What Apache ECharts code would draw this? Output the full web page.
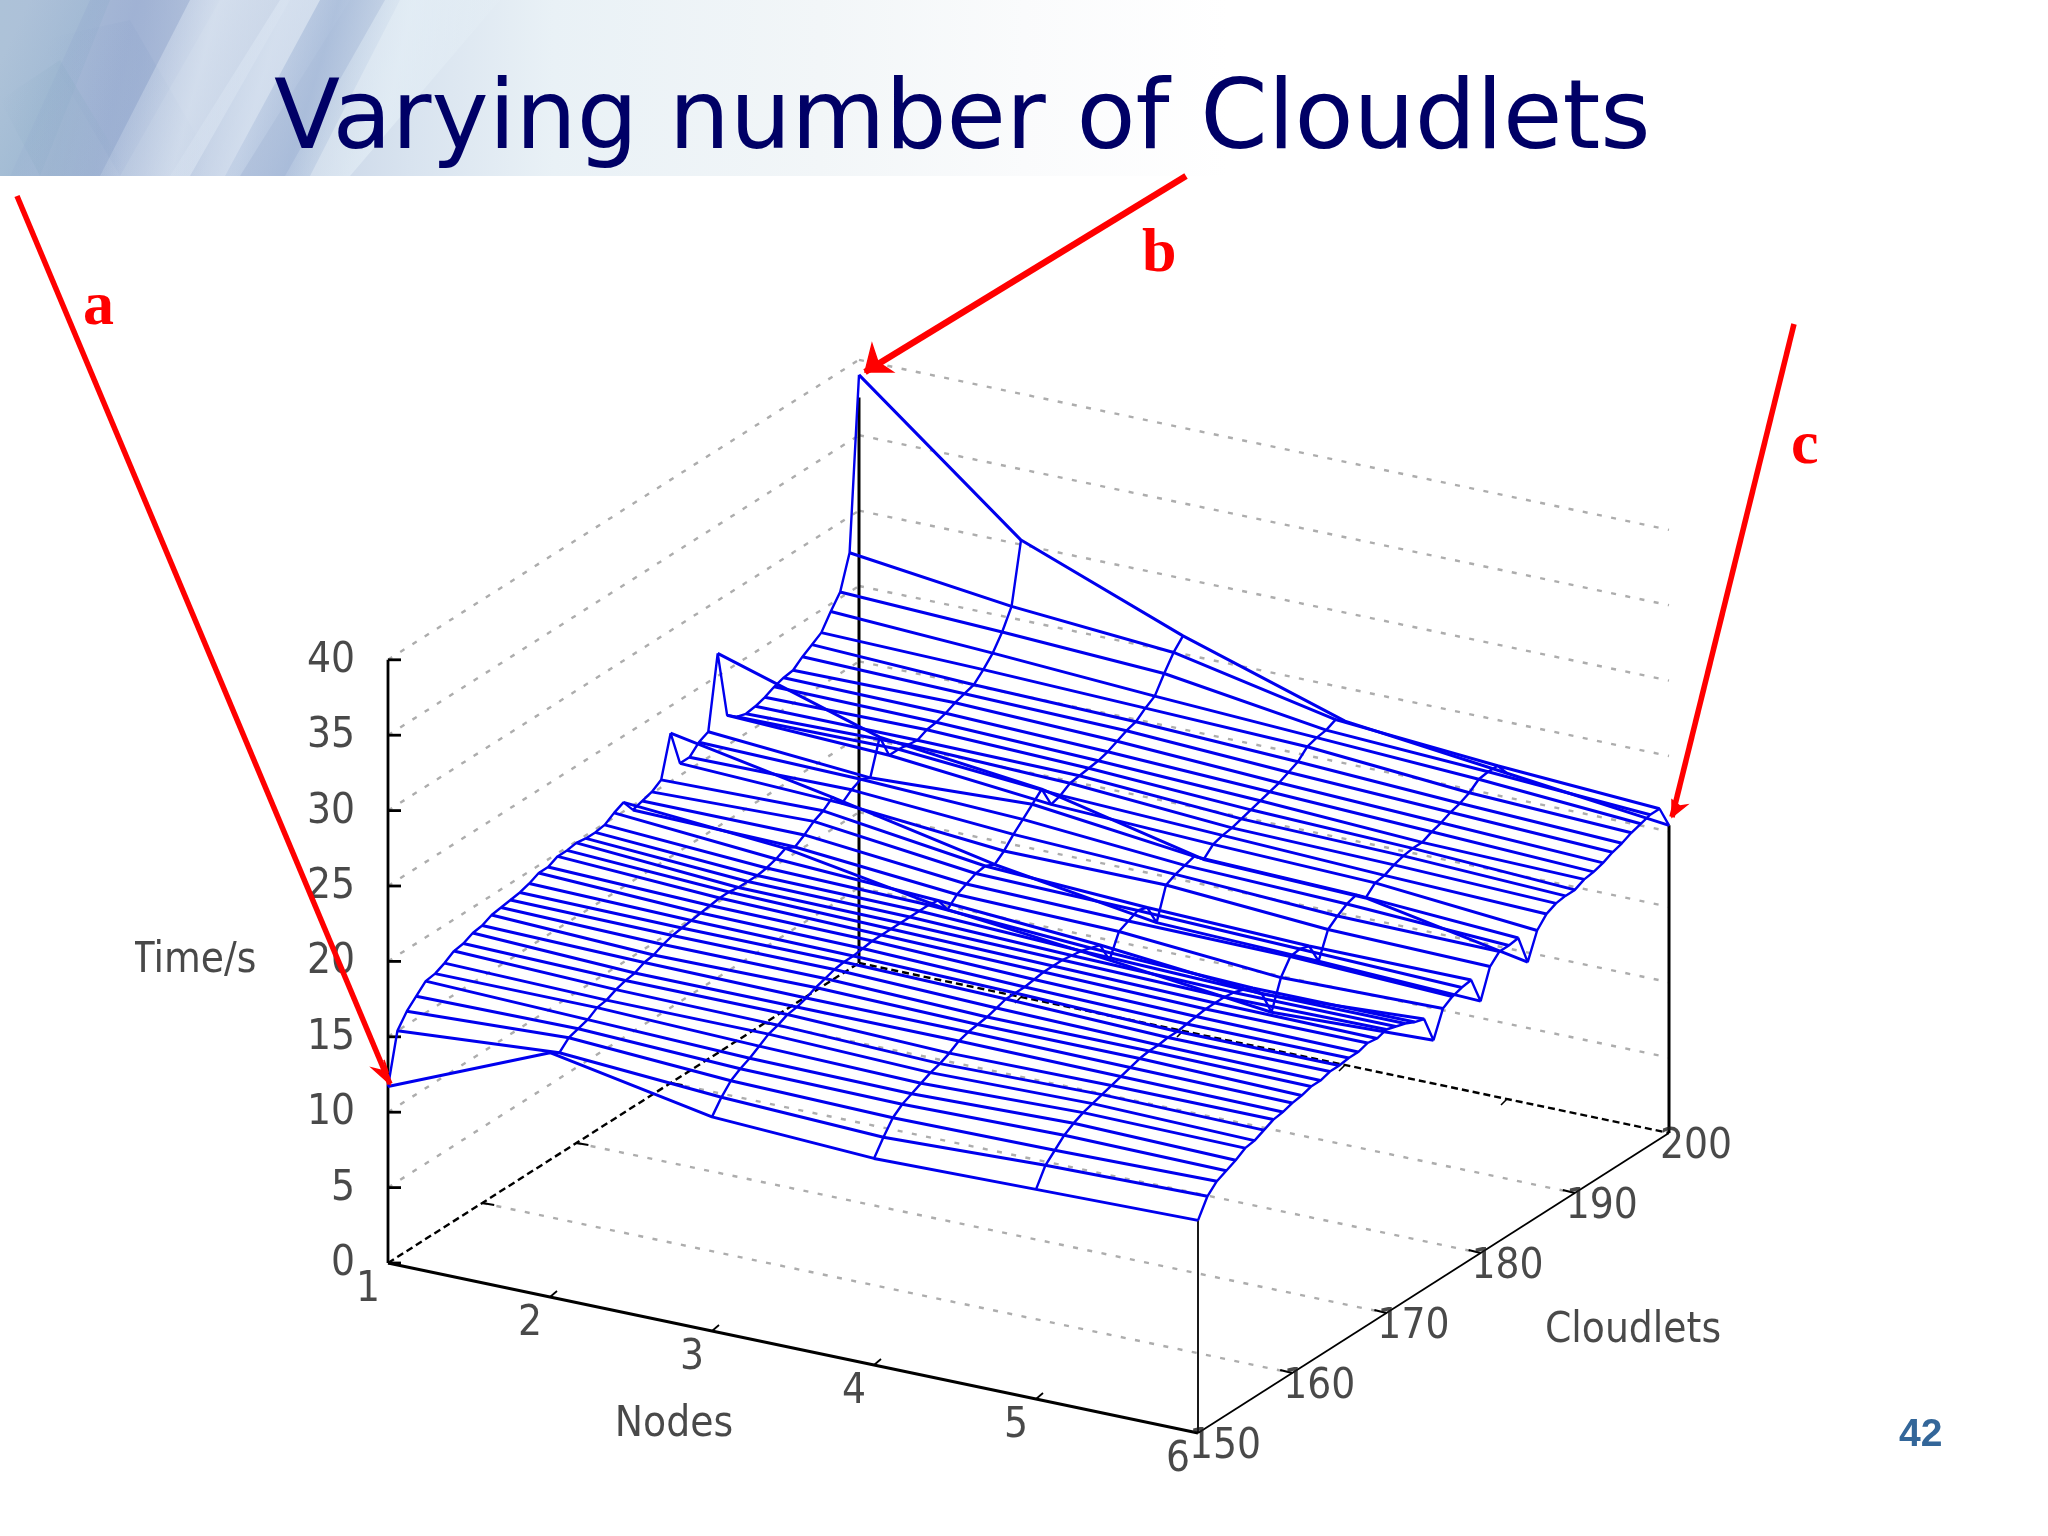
<!DOCTYPE html>
<html><head><meta charset="utf-8">
<style>html,body{margin:0;padding:0;background:#fff}#c{width:2048px;height:1536px}</style>
<script src="https://cdn.jsdelivr.net/npm/echarts@6/dist/echarts.min.js"></script>
</head><body><div id="c"></div>
<script>
const nodes=[1,2,3,4,5,6];
const cloudlets=[150,151,152,153,154,155,156,157,158,159,160,161,162,163,164,165,166,167,168,169,170,171,172,173,174,175,176,177,178,179,180,181,182,183,184,185,186,187,188,189,190,191,192,193,194,195,196,197,198,199,200];
const timeNode1=[11.7,15.0,15.9,16.5,17.1,17.2,17.5,17.9,18.0,18.3,18.4,18.7,18.8,18.9,19.0,19.2,19.5,19.5,19.8,19.8,19.9,19.8,19.8,19.9,20.3,20.6,19.7,19.9,20.1,20.5,23.2,20.8,20.8,21.4,21.7,26.5,22.0,21.5,21.3,21.4,21.6,21.9,22.1,22.2,22.7,23.1,23.5,24.5,25.4,27.6,39.0];
const timeNode2=[16.2,15.8,16.4,16.6,16.8,17.2,17.3,17.6,17.8,17.9,18.2,18.3,18.6,18.8,18.9,19.0,19.1,19.2,19.3,19.3,19.2,19.2,19.2,19.3,19.5,19.8,19.5,19.9,20.4,20.7,21.2,20.4,20.9,21.2,20.9,23.2,21.6,21.6,21.5,21.4,21.7,21.8,22.0,22.3,22.5,22.7,23.3,24.0,25.0,26.3,30.3];
const timeNode3=[14.2,15.1,15.8,16.2,16.5,16.9,17.3,17.5,17.8,17.9,18.1,18.4,18.6,18.8,18.9,18.9,19.0,19.1,19.1,19.1,19.1,19.1,19.1,19.1,19.0,18.0,18.6,18.9,19.2,19.3,19.0,19.5,20.2,20.8,21.4,22.0,20.6,20.8,21.2,21.3,21.4,21.5,21.7,22.0,22.3,22.5,23.0,23.4,24.5,25.5,26.2];
const timeNode4=[13.7,14.7,15.6,16.1,16.4,16.7,17.0,17.2,17.5,17.9,18.1,18.2,18.3,18.5,18.7,18.7,18.7,18.8,18.9,18.9,18.9,18.8,18.7,18.5,18.3,16.9,18.4,18.7,19.0,18.8,17.4,19.5,19.8,20.0,20.2,19.6,20.2,20.4,20.5,20.7,20.9,21.1,21.3,21.5,21.8,22.1,22.7,22.9,23.0,23.3,22.8];
const timeNode5=[13.9,15.1,15.7,16.3,16.7,17.0,17.2,17.4,17.6,17.8,18.0,18.2,18.3,18.3,18.4,18.4,18.5,18.6,18.7,18.7,18.7,18.6,18.4,18.1,17.3,15.7,17.6,18.6,18.7,18.5,17.1,18.8,19.3,19.7,19.9,19.3,19.9,20.0,20.3,20.5,20.6,20.6,20.9,21.1,21.4,21.6,21.9,22.4,22.5,22.5,21.6];
const timeNode6=[14.1,15.3,15.9,16.2,16.5,16.9,17.0,17.3,17.6,17.7,17.9,18.0,18.2,18.2,18.4,18.4,18.5,18.5,18.7,18.6,18.8,18.6,18.4,18.1,17.9,16.1,17.8,18.2,18.4,18.5,16.7,18.6,19.2,19.2,19.3,17.3,19.0,19.7,20.0,20.1,20.1,20.4,20.5,20.7,21.0,21.2,21.5,21.7,21.9,21.9,20.4];
const timeTable=[timeNode1,timeNode2,timeNode3,timeNode4,timeNode5,timeNode6];
const timeTicks=[0,5,10,15,20,25,30,35,40];
const nodeTicks=[1,2,3,4,5,6];
const cloudletTicks=[150,160,170,180,190,200];

/* oblique view of the 3D box onto the plot plane */
const view={ox:388,oy:1263,nx:162,ny:34,cx:9.42,cy:-6,tz:-15.08};
const P=(n,c,t)=>[view.ox+(n-1)*view.nx+(c-150)*view.cx, view.oy+(n-1)*view.ny+(c-150)*view.cy+t*view.tz];

const series=[];
const seg=(pts,color,width,type)=>series.push({type:'line',data:pts,showSymbol:false,symbol:'none',silent:true,animation:false,
  lineStyle:{color,width,type:type||'solid',cap:'butt'},itemStyle:{color},z:2,clip:false});
const GRAY='#adadad',DOT=[5,9.5],BL='#000';

/* dotted grid */
timeTicks.slice(1).forEach(t=>{
  seg([P(1,150,t),P(1,200,t)],GRAY,2.4,DOT);
  seg([P(1,200,t),P(6,200,t)],GRAY,2.4,DOT);
});
cloudletTicks.slice(1,5).forEach(c=>seg([P(1,c,0),P(6,c,0)],GRAY,2.4,DOT));

/* box */
seg([P(1,150,0),P(1,150,40)],BL,2.8);
seg([P(1,150,0),P(6,150,0)],BL,3);
seg([P(6,150,0),P(6,200,0)],BL,1.8);
seg([P(1,150,0),P(1,200,0)],BL,2.4,[7,4]);
seg([P(1,200,0),P(6,200,0)],BL,2.4,[7,4]);
seg([P(1,200,0),P(1,200,37.5)],BL,3);
seg([P(6,200,0),P(6,200,20.4)],BL,3);
seg([P(6,150,0),P(6,150,14.1)],BL,1.8);
/* ticks */
timeTicks.forEach(t=>{const a=P(1,150,t);seg([a,[a[0]+13,a[1]]],BL,2.8);});
nodeTicks.slice(1,5).forEach(n=>{const a=P(n,150,0);seg([a,[a[0]+7,a[1]-6]],BL,1.8);const b=P(n,200,0);seg([b,[b[0]-6,b[1]+6]],BL,1.6);});
cloudletTicks.slice(1,5).forEach(c=>{const a=P(6,c,0);seg([a,[a[0]-12,a[1]-3]],BL,2);const b=P(1,c,0);seg([b,[b[0]+12,b[1]+2]],BL,2);});

/* surface */
const BLUE='#0000ee';
cloudlets.forEach((c,i)=>seg(nodes.map((n,k)=>P(n,c,timeTable[k][i])),BLUE,3));
nodes.forEach((n,k)=>seg(cloudlets.map((c,i)=>P(n,c,timeTable[k][i])),BLUE,2.4));

/* text labels on the box */
const AX={fontFamily:'DejaVu Sans Condensed',fontSize:42,color:'#1c1c1c'};
const labels=(items,extra)=>series.push({type:'scatter',symbolSize:0.01,silent:true,animation:false,z:5,clip:false,
  data:items.map(d=>({value:[d[0],d[1]],txt:d[2]})),
  label:{show:true,position:'inside',formatter:p=>p.data.txt,...AX,...extra}});
labels(timeTicks.map(t=>{const a=P(1,150,t);return [a[0]-33,a[1]+1,String(t)];}),{align:'right',verticalAlign:'middle'});
labels(nodeTicks.map(n=>{const a=P(n,150,0);return [a[0]-20,a[1]+27,String(n)];}),{align:'center',verticalAlign:'middle'});
labels(cloudletTicks.map(c=>{const a=P(6,c,0);return [a[0]+27,a[1]+14,String(c)];}),{align:'center',verticalAlign:'middle'});
labels([[194,961,'Time/s'],[674,1425,'Nodes'],[1633,1331,'Cloudlets']],{align:'center',verticalAlign:'middle'});

const RED='#ff0000';
const arrow=(from,tip,w,barbs)=>[
  {type:'polyline',z:20,shape:{points:[from,tip]},style:{stroke:RED,lineWidth:w,fill:null}},
  {type:'polygon',z:20,shape:{points:[barbs[0],tip,barbs[1],barbs[2]]},style:{fill:RED,stroke:RED,lineWidth:1.5}}
];
const streaks=[
 [[0,0],[110,0],[40,176],[0,176],'143,176,204',.35],
 [[90,0],[220,0],[120,176],[10,176],'141,162,204',.4],
 [[40,40],[130,20],[220,176],[120,176],'143,166,204',.25],
 [[190,0],[290,0],[190,176],[100,176],'232,240,248',.55],
 [[280,0],[350,0],[240,176],[170,176],'222,232,244',.6],
 [[320,0],[400,0],[310,176],[225,176],'140,165,205',.5],
 [[385,0],[500,0],[350,176],[285,176],'232,242,248',.6],
 [[0,100],[60,60],[130,176],[40,176],'140,172,198',.3]
];
const graphic=[
 {type:'rect',z:-5,shape:{x:0,y:0,width:2048,height:176},
  style:{fill:{type:'linear',x:0,y:0,x2:1,y2:0,colorStops:[
    {offset:0,color:'#adc2d8'},{offset:.07,color:'#adbdd9'},{offset:.13,color:'#c3d0e4'},{offset:.2,color:'#d8e3ef'},
    {offset:.27,color:'#e9f1f6'},{offset:.4,color:'#f2f6f8'},{offset:.5,color:'#fafbfc'},{offset:.6,color:'#ffffff'},{offset:1,color:'#ffffff'}]}}},
 ...streaks.map(s=>({type:'polygon',z:-4,shape:{points:s.slice(0,4)},style:{fill:{type:'linear',x:0,y:.35,x2:1,y2:.65,colorStops:[
    {offset:0,color:`rgba(${s[4]},0)`},{offset:.5,color:`rgba(${s[4]},${s[5]})`},{offset:1,color:`rgba(${s[4]},0)`}]}}})),
 {type:'text',z:10,left:274,top:74,style:{text:'Varying number of Cloudlets',font:'96.6px "DejaVu Sans"',fill:'#000066'}},
 {type:'text',z:10,left:1899,top:1416,style:{text:'42',font:'bold 39px "Liberation Sans"',fill:'#336699'}},
 {type:'rect',z:30,shape:{x:100,y:930,width:35,height:60},style:{fill:'#fff'}},
 ...arrow([17,196],[390,1084],5.5,[[372,1068],[384,1060],[388,1072]]),
 ...arrow([1186,176],[865,372],6.5,[[872,344],[893,372],[878,362]]),
 ...arrow([1794,324],[1672,817],5.5,[[1687,805],[1672,800],[1680,806]]),
 {type:'text',z:21,left:83,top:277,style:{text:'a',font:'bold 62px "Liberation Serif"',fill:RED}},
 {type:'text',z:21,left:1142,top:224,style:{text:'b',font:'bold 62px "Liberation Serif"',fill:RED}},
 {type:'text',z:21,left:1791,top:416,style:{text:'c',font:'bold 62px "Liberation Serif"',fill:RED}}
];

const chart=echarts.init(document.getElementById('c'),null,{renderer:'canvas'});
chart.setOption({animation:false,backgroundColor:'#fff',
  grid:{left:0,right:0,top:0,bottom:0},
  xAxis:{type:'value',min:0,max:2048,show:false},
  yAxis:{type:'value',min:0,max:1536,inverse:true,show:false},
  tooltip:{show:false},legend:{show:false},
  series,graphic});
</script></body></html>
